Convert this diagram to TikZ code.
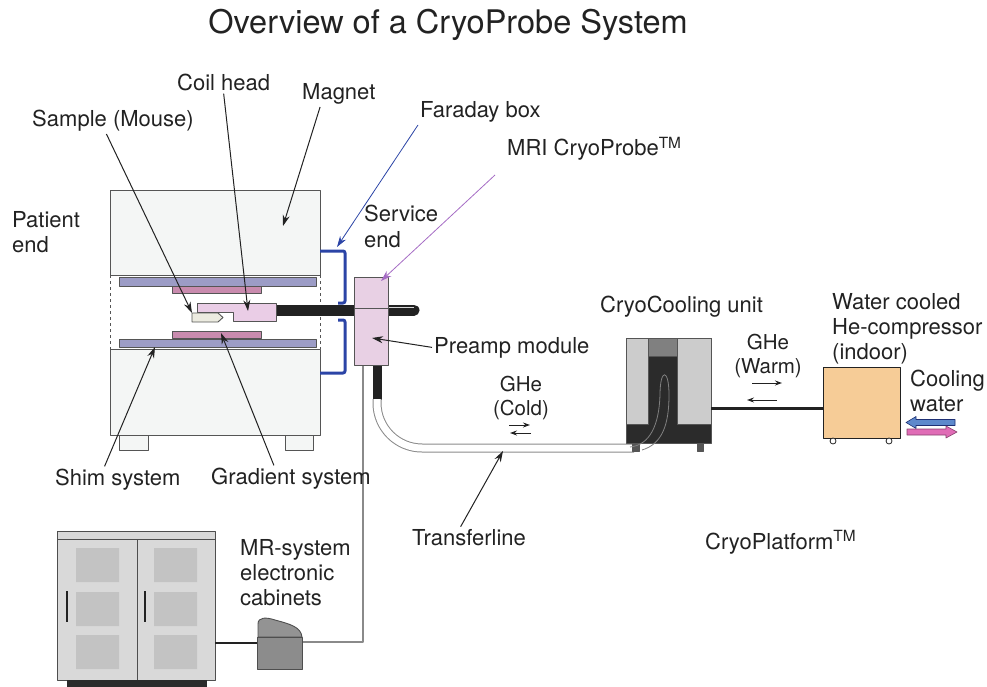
\documentclass[tikz,border=0pt]{standalone}
\usepackage{fontspec}
\setmainfont{TeX Gyre Heros}
\usetikzlibrary{arrows.meta}
\definecolor{cInk}{HTML}{222222}
\definecolor{cLine}{HTML}{555555}
\definecolor{cBody}{HTML}{F4F6F5}
\definecolor{cShim}{HTML}{9C9CC6}
\definecolor{cGrad}{HTML}{C98BAE}
\definecolor{cCoil}{HTML}{EACDE6}
\definecolor{cMouse}{HTML}{ECEBE0}
\definecolor{cPre}{HTML}{E8D0E4}
\definecolor{cFar}{HTML}{2B44A6}
\definecolor{cProbe}{HTML}{A56CC4}
\definecolor{cTube}{HTML}{8A8A8A}
\definecolor{cCab}{HTML}{D9D9D9}
\definecolor{cPanel}{HTML}{C3C3C3}
\definecolor{cDark}{HTML}{2B2B2B}
\definecolor{cComp}{HTML}{F6CC97}
\definecolor{cWin}{HTML}{5D89CC}
\definecolor{cWout}{HTML}{E06CB6}
\newcommand{\lblfont}{\fontsize{22}{25}\selectfont}
\newcommand{\gasfont}{\fontsize{20.5}{23.5}\selectfont}
\tikzset{
  >=Stealth,
  part/.style={draw=cLine,line width=0.9pt},
  lbl/.style={inner sep=2pt,font=\lblfont,text=cInk},
  gas/.style={lbl,font=\gasfont,align=center},
  ar/.style={-{Stealth[length=11pt,width=7pt]},line width=1pt,cInk},
  flow/.style={-{Stealth[length=7pt,width=5pt]},line width=0.9pt,cInk},
  far/.style={line width=3pt,cFar,rounded corners=2pt},
  tube/.style={draw=cTube,line width=1pt,double=white,double distance=7pt,rounded corners=45pt},
  cable/.style={cTube,line width=1.4pt},
}

\begin{document}
\begin{tikzpicture}[x=1pt,y=-1pt,line join=round]
\useasboundingbox (0,0) rectangle (987,687);
\node[lbl,font=\fontsize{32.5}{36}\selectfont,anchor=base] (title) at (448,34) {Overview of a CryoProbe System};

% magnet with shim and gradient coils
\draw[part,fill=cBody] (110,190) rectangle (320,275);
\draw[part,fill=cBody] (110,349) rectangle (320,435);
\draw[part,fill=cBody] (119,435) rectangle (148,450) (285,435) rectangle (313,450);
\draw[cLine,dashed,line width=0.8pt] (110,275) -- (110,349) (320,275) -- (320,349);
\draw[part,fill=cShim] (119,277) rectangle (316,286) (119,339) rectangle (316,347);
\draw[part,fill=cGrad] (172,286) rectangle (261,293) (172,331) rectangle (261,338);

% probe rod, coil head and mouse
\draw[cInk,line width=11pt,line cap=round] (270,310) -- (414,310);
\draw[white!70!gray,line width=1pt] (388,307.5) -- (414,307.5);
\draw[part,fill=cCoil] (197,303) -- (276,303) -- (276,321) -- (233,321) -- (233,312) -- (197,312) -- cycle;
\draw[part,fill=cMouse] (192,313) -- (218,313) -- (223,317.5) -- (218,322) -- (192,322) -- cycle;

% faraday box
\draw[far] (320,251) -- (345,251) -- (345,303) -- (338,303);
\draw[far] (338,320) -- (345,320) -- (345,373) -- (320,373);

% preamp and lines
\draw[cable] (363,365) -- (363,642) -- (302,642);
\draw[cInk,line width=9pt] (377,365) -- (377,400);
\draw[tube] (377,399) -- (377,448) -- (634,448);
\draw[part,fill=cPre] (354,277) rectangle (388,365);
\draw[part] (354,308) -- (388,308);

% cryocooling unit
\draw[part,fill=cDark] (626,338) rectangle (711,443);
\draw[part,fill=cPanel!85!white] (626,338) rectangle (648,424) (677,338) rectangle (711,424);
\draw[part,fill=gray] (648,338) rectangle (677,356);
\draw[part,fill=cLine] (632,443) rectangle (639,451) (697,443) rectangle (703,451);
\draw[gray,line width=0.8pt] (630,447) .. controls (650,445) and (659,425) .. (660,395)
  .. controls (660,368) and (669,368) .. (669,395) .. controls (669,425) and (662,444) .. (642,450);
\draw[cInk,line width=3pt] (711,408) -- (823,408);

% compressor and cooling water
\draw[part,draw=cInk,fill=cComp] (823,367) rectangle (900,438);
\draw[cInk,fill=white,line width=0.8pt] (833,441) circle (3) (889,441) circle (3);
\draw[draw=cFar!70!black,fill=cWin,line width=0.6pt] (955,419.5) -- (916,419.5) -- (916,416.5) -- (906,422.5)
  -- (916,428.5) -- (916,425.5) -- (955,425.5) -- cycle;
\draw[draw=cWout!60!black,fill=cWout,line width=0.6pt] (907,429) -- (946,429) -- (946,426) -- (957,432)
  -- (946,438) -- (946,435) -- (907,435) -- cycle;

% electronic cabinets
\draw[part,draw=cInk!80,fill=cCab] (57,531) rectangle (215,680);
\draw[part,draw=cInk!80] (57,539) -- (215,539) (137,539) -- (137,680);
\foreach \y in {548,592,635} {
  \fill[cPanel] (76,\y) rectangle (119,\y+34) (154,\y) rectangle (197,\y+34);
}
\draw[cInk,line width=2pt] (67,591) -- (67,622) (145,591) -- (145,622);
\fill[cDark] (67,680) rectangle (207,687);
\draw[cInk,line width=1.2pt] (215,643) -- (257,643);
\draw[part,draw=cInk!80,fill=gray!85] (258,637) -- (258,624) .. controls (258,617) and (266,617) .. (275,620)
  .. controls (290,624) and (301,627) .. (302,637) -- cycle;
\draw[part,draw=cInk!80,fill=gray!90] (257,637) rectangle (302,669);

% labels (base of a multi-line label is its last line)
\node[lbl,anchor=base west] (coil) at (175,91) {Coil head};
\node[lbl,anchor=base west] (magnet) at (300,100) {Magnet};
\node[lbl,anchor=base west] (mouse) at (30,127) {Sample (Mouse)};
\node[lbl,anchor=base west] (faraday) at (418,118) {Faraday box};
\node[lbl,anchor=base west] (probe) at (505,156) {MRI CryoProbe\textsuperscript{TM}};
\node[lbl,anchor=base west,align=left] (patient) at (10,252) {Patient\\end};
\node[lbl,anchor=base west,align=left] (service) at (362,247) {Service\\end};
\node[lbl,anchor=base west] (preamp) at (432,353) {Preamp module};
\node[lbl,anchor=base west] (cooler) at (598,312) {CryoCooling unit};
\node[lbl,anchor=base west,align=left] (compr) at (830,359) {Water cooled\\He-compressor\\(indoor)};
\node[gas,anchor=base] (warm) at (768,373) {GHe\\(Warm)};
\node[lbl,anchor=base west,align=left] (water) at (908,411) {Cooling\\water};
\node[gas,anchor=base] (cold) at (521,415) {GHe\\(Cold)};
\node[lbl,anchor=base west] (shim) at (53,485) {Shim system};
\node[lbl,anchor=base west] (grad) at (209,484) {Gradient system};
\node[lbl,anchor=base west] (trans) at (410,545) {Transferline};
\node[lbl,anchor=base west] (platform) at (703,549) {CryoPlatform\textsuperscript{TM}};
\node[lbl,anchor=base west,align=left] (cabinets) at (238,605) {MR-system\\electronic\\cabinets};

% gas flow
\draw[flow] (509,425) -- (530,425);
\draw[flow] (531,433) -- (510,433);
\draw[flow] (752,383) -- (782,383);
\draw[flow] (777,400) -- (747,400);

% pointers
\coordinate (coiltip) at (248,311);
\coordinate (magtip) at (283,226);
\coordinate (mousetip) at (192,313);
\coordinate (fartip) at (337,247);
\coordinate (probetip) at (381,281);
\coordinate (pretip) at (372,338);
\coordinate (shimtip) at (155,347);
\coordinate (gradtip) at (221,333);
\coordinate (transtip) at (503,451);
\draw[ar] (coil.south) -- (coiltip);
\draw[ar] (magnet.214) -- (magtip);
\draw[ar] (mouse.243) -- (mousetip);
\draw[ar,cFar,line width=0.8pt] (faraday.south west) -- (fartip);
\draw[ar,cProbe,line width=0.8pt] ([shift={(-10,12)}]probe.south west) -- (probetip);
\draw[ar] (preamp.west) -- (pretip);
\draw[ar] (shim.136) -- (shimtip);
\draw[ar] (grad.143) -- (gradtip);
\draw[ar] (trans.129) -- (transtip);
\end{tikzpicture}
\end{document}
